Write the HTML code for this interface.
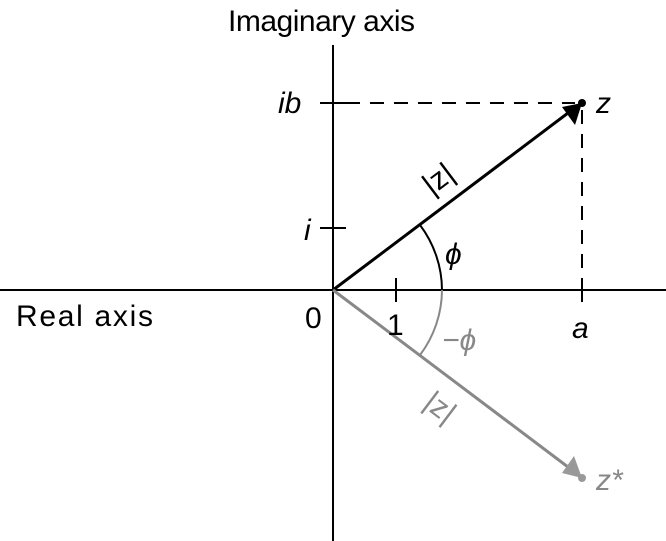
<!DOCTYPE html>
<html><head><style>body{margin:0;background:#fff}svg{display:block}</style></head><body>
<svg width="666" height="541" viewBox="0 0 666 541" xmlns="http://www.w3.org/2000/svg" font-family="Liberation Sans, sans-serif">
<line x1="0" y1="290" x2="666" y2="290" stroke="#000" stroke-width="2"/>
<line x1="333" y1="45" x2="333" y2="541" stroke="#000" stroke-width="2"/>
<line x1="320" y1="103" x2="346" y2="103" stroke="#000" stroke-width="2"/>
<line x1="320" y1="228" x2="346" y2="228" stroke="#000" stroke-width="2"/>
<line x1="396" y1="278" x2="396" y2="302" stroke="#000" stroke-width="2"/>
<line x1="582" y1="278" x2="582" y2="302" stroke="#000" stroke-width="2"/>
<line x1="346" y1="103" x2="575" y2="103" stroke="#000" stroke-width="2" stroke-dasharray="14,10"/>
<line x1="582" y1="110" x2="582" y2="290" stroke="#000" stroke-width="2" stroke-dasharray="14,10"/>
<line x1="333" y1="290" x2="568" y2="113" stroke="#000" stroke-width="3"/>
<polygon points="582,103 575,125 562,107" fill="#000"/>
<circle cx="582" cy="103" r="4" fill="#000"/>
<line x1="333" y1="290" x2="568" y2="467" stroke="#888" stroke-width="3"/>
<polygon points="582,478 562,473 574,456" fill="#999"/>
<circle cx="582" cy="478" r="4" fill="#999"/>
<path d="M420,225 A109,109 0 0 1 442,290" fill="none" stroke="#000" stroke-width="2"/>
<path d="M442,290 A109,109 0 0 1 420,355" fill="none" stroke="#888" stroke-width="2"/>
<g font-size="30">
<text x="228" y="31" textLength="187">Imaginary axis</text>
<text x="16" y="326" textLength="137">Real axis</text>
<text x="305" y="328">0</text>
<text x="387" y="335">1</text>
<text x="572" y="338" font-style="italic">a</text>
<text x="278" y="113" font-style="italic">ib</text>
<text x="304" y="240" font-style="italic">i</text>
<text x="596" y="113" font-style="italic">z</text>
<text x="596" y="490" font-style="italic" fill="#888">z*</text>
<text x="445" y="264" font-style="italic">ϕ</text>
<text x="442" y="350" font-style="italic" fill="#888">−ϕ</text>
<text x="0" y="0" transform="translate(432,196) rotate(-37)">|z|</text>
<text x="0" y="0" fill="#888" transform="translate(422,406) rotate(37)">|z|</text>
</g>
</svg>
</body></html>
